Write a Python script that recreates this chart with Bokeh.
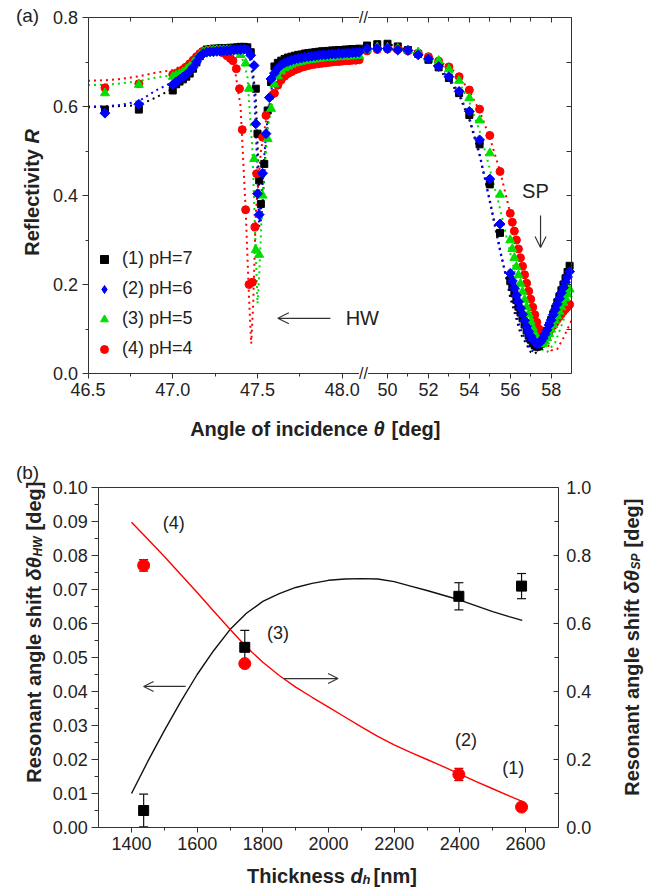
import numpy as np
from bokeh.plotting import figure
from bokeh.models import (Range1d, LinearAxis, FixedTicker, CustomJSTickFormatter, PrintfTickFormatter,
                          Label, Arrow, OpenHead, Legend, LegendItem, Whisker, TeeHead, ColumnDataSource)
from bokeh.layouts import column
from bokeh.embed import file_html
from bokeh.resources import INLINE

FONT = "Liberation Sans"
AX = "#333333"
TXT = "#222222"

# ---------------- panel (a) data : reflectivity vs angle ----------------
theta_rise = [47.00, 47.02, 47.04, 47.06, 47.08, 47.10, 47.12, 47.14, 47.16, 47.18,
              47.20, 47.22, 47.24, 47.26, 47.28, 47.30]
theta_flat = [47.60, 47.62, 47.64, 47.66, 47.68, 47.70, 47.72, 47.74, 47.76, 47.78,
              47.80, 47.82, 47.84, 47.86, 47.88, 47.90, 47.92, 47.94, 47.96, 47.98,
              48.00, 48.02, 48.04, 48.06, 48.08, 48.10]
theta_rs = [49.0, 49.5, 50.0, 50.5, 51.0, 51.5, 52.0, 52.5, 53.0, 53.5, 54.0, 54.5, 55.0, 55.5]
theta_rd = [56.0, 56.1, 56.2, 56.3, 56.4, 56.5, 56.6, 56.7, 56.8, 56.9, 57.0, 57.1, 57.2, 57.3,
            57.4, 57.5, 57.6, 57.7, 57.8, 57.9, 58.0, 58.1, 58.2, 58.3, 58.4, 58.5, 58.6, 58.7,
            58.8, 58.9]

# (1) pH=7
rise7 = [0.636, 0.650, 0.656, 0.661, 0.667, 0.674, 0.685, 0.699, 0.713, 0.723, 0.728, 0.729, 0.730, 0.730, 0.731, 0.731]
dip7_t = [46.6, 46.8, 47.32, 47.34, 47.36, 47.38, 47.40, 47.42, 47.44, 47.46, 47.49, 47.50, 47.51, 47.52, 47.54, 47.56, 47.58]
dip7_r = [0.593, 0.593, 0.731, 0.732, 0.732, 0.733, 0.734, 0.734, 0.733, 0.722, 0.640, 0.539, 0.434, 0.381, 0.471, 0.591, 0.655]
flat7 = [0.690, 0.698, 0.703, 0.707, 0.710, 0.712, 0.714, 0.716, 0.717, 0.719, 0.720, 0.721, 0.722, 0.723, 0.724, 0.724,
         0.725, 0.726, 0.726, 0.727, 0.727, 0.728, 0.728, 0.729, 0.729, 0.730]
rs7 = [0.737, 0.740, 0.741, 0.735, 0.727, 0.718, 0.705, 0.688, 0.664, 0.630, 0.581, 0.515, 0.425, 0.316]
rd7 = [0.210, 0.195, 0.180, 0.165, 0.150, 0.137, 0.124, 0.110, 0.097, 0.085, 0.076, 0.068, 0.063, 0.060, 0.062, 0.067,
       0.075, 0.085, 0.096, 0.108, 0.120, 0.133, 0.146, 0.160, 0.173, 0.187, 0.200, 0.214, 0.228, 0.242]
fitL7_t = [46.5, 46.6, 46.7, 46.8, 46.9, 47.0, 47.1, 47.2, 47.3, 47.4, 47.46, 47.49, 47.51, 47.52, 47.53, 47.55, 47.58, 47.62, 47.7, 47.9, 48.1]
fitL7 = [0.600, 0.600, 0.601, 0.603, 0.620, 0.640, 0.675, 0.727, 0.731, 0.733, 0.725, 0.62, 0.42, 0.34, 0.38, 0.52, 0.64, 0.695, 0.712, 0.724, 0.730]
fitR7_t = [49.0, 50.0, 51.0, 52.0, 53.0, 53.5, 54.0, 54.5, 55.0, 55.5, 56.0, 56.5, 57.0, 57.2, 57.5, 58.0, 58.5, 59.0]
fitR7 = [0.737, 0.741, 0.727, 0.705, 0.660, 0.625, 0.570, 0.490, 0.390, 0.280, 0.170, 0.090, 0.048, 0.045, 0.055, 0.110, 0.185, 0.256]

# (2) pH=6
rise6 = [0.649, 0.655, 0.661, 0.666, 0.672, 0.679, 0.688, 0.700, 0.712, 0.719, 0.722, 0.723, 0.723, 0.724, 0.724, 0.725]
dip6_t = [46.6, 46.8, 47.32, 47.34, 47.36, 47.38, 47.40, 47.42, 47.44, 47.46, 47.48, 47.49, 47.50, 47.51, 47.53, 47.55, 47.57, 47.58]
dip6_r = [0.585, 0.605, 0.725, 0.726, 0.727, 0.728, 0.728, 0.729, 0.727, 0.715, 0.692, 0.561, 0.404, 0.357, 0.450, 0.539, 0.620, 0.662]
flat6 = [0.675, 0.686, 0.693, 0.698, 0.701, 0.704, 0.706, 0.708, 0.709, 0.711, 0.712, 0.713, 0.714, 0.715, 0.716, 0.716,
         0.717, 0.718, 0.718, 0.719, 0.719, 0.720, 0.720, 0.721, 0.721, 0.722]
rs6 = [0.730, 0.730, 0.730, 0.727, 0.726, 0.716, 0.707, 0.690, 0.667, 0.634, 0.589, 0.525, 0.437, 0.336]
rd6 = [0.225, 0.208, 0.192, 0.176, 0.161, 0.147, 0.133, 0.119, 0.106, 0.094, 0.084, 0.076, 0.070, 0.067, 0.068, 0.072,
       0.079, 0.088, 0.098, 0.109, 0.120, 0.132, 0.144, 0.156, 0.168, 0.181, 0.193, 0.205, 0.217, 0.229]
fitL6_t = [46.5, 46.6, 46.7, 46.8, 46.9, 47.0, 47.1, 47.2, 47.3, 47.4, 47.45, 47.48, 47.50, 47.51, 47.52, 47.54, 47.57, 47.61, 47.7, 47.9, 48.1]
fitL6 = [0.598, 0.600, 0.604, 0.612, 0.636, 0.655, 0.680, 0.722, 0.725, 0.728, 0.724, 0.64, 0.45, 0.33, 0.36, 0.49, 0.62, 0.680, 0.704, 0.716, 0.722]
fitR6_t = [49.0, 50.0, 51.0, 52.0, 53.0, 53.5, 54.0, 54.5, 55.0, 55.5, 56.0, 56.5, 57.0, 57.2, 57.5, 58.0, 58.5, 59.0]
fitR6 = [0.730, 0.730, 0.726, 0.707, 0.665, 0.630, 0.575, 0.495, 0.385, 0.275, 0.180, 0.100, 0.052, 0.048, 0.057, 0.110, 0.180, 0.245]

# (3) pH=5
rise5 = [0.667, 0.670, 0.673, 0.677, 0.683, 0.690, 0.698, 0.707, 0.716, 0.722, 0.725, 0.726, 0.726, 0.727, 0.727, 0.727]
dip5_t = [46.6, 46.8, 47.32, 47.34, 47.36, 47.38, 47.40, 47.43, 47.45, 47.48, 47.49, 47.51, 47.53, 47.56, 47.58]
dip5_r = [0.630, 0.649, 0.727, 0.727, 0.726, 0.724, 0.716, 0.697, 0.640, 0.482, 0.278, 0.267, 0.400, 0.527, 0.595]
flat5 = [0.650, 0.668, 0.679, 0.686, 0.690, 0.694, 0.697, 0.699, 0.701, 0.703, 0.704, 0.705, 0.706, 0.707, 0.708, 0.709,
         0.709, 0.710, 0.711, 0.711, 0.712, 0.712, 0.713, 0.713, 0.714, 0.714]
rs5 = [0.728, 0.733, 0.732, 0.730, 0.726, 0.722, 0.709, 0.703, 0.684, 0.658, 0.619, 0.569, 0.495, 0.402]
rd5 = [0.300, 0.280, 0.260, 0.240, 0.221, 0.202, 0.184, 0.166, 0.149, 0.133, 0.117, 0.103, 0.090, 0.078, 0.070, 0.066,
       0.067, 0.072, 0.080, 0.089, 0.099, 0.109, 0.119, 0.129, 0.139, 0.149, 0.159, 0.169, 0.179, 0.189]
fitL5_t = [46.5, 46.6, 46.7, 46.8, 46.9, 47.0, 47.1, 47.2, 47.3, 47.4, 47.44, 47.47, 47.49, 47.50, 47.51, 47.53, 47.56, 47.60, 47.7, 47.9, 48.1]
fitL5 = [0.648, 0.649, 0.652, 0.657, 0.665, 0.670, 0.690, 0.725, 0.727, 0.720, 0.670, 0.50, 0.27, 0.157, 0.22, 0.40, 0.55, 0.640, 0.694, 0.709, 0.714]
fitR5_t = [49.0, 50.0, 51.0, 52.0, 53.0, 53.5, 54.0, 54.5, 55.0, 55.5, 56.0, 56.5, 57.0, 57.5, 57.8, 58.2, 58.6, 59.0]
fitR5 = [0.728, 0.732, 0.726, 0.709, 0.685, 0.655, 0.610, 0.545, 0.460, 0.370, 0.270, 0.175, 0.100, 0.055, 0.048, 0.070, 0.120, 0.175]

# (4) pH=4
rise4 = [0.672, 0.675, 0.678, 0.683, 0.689, 0.696, 0.704, 0.712, 0.719, 0.724, 0.726, 0.727, 0.727, 0.726, 0.724, 0.720]
dip4_t = [46.6, 46.8, 47.32, 47.34, 47.355, 47.375, 47.394, 47.41, 47.43, 47.45, 47.47, 47.485, 47.495, 47.53, 47.55]
dip4_r = [0.642, 0.651, 0.714, 0.708, 0.703, 0.685, 0.640, 0.548, 0.368, 0.200, 0.205, 0.329, 0.449, 0.531, 0.580]
flat4 = [0.630, 0.648, 0.660, 0.668, 0.674, 0.678, 0.682, 0.685, 0.688, 0.690, 0.692, 0.694, 0.695, 0.696, 0.697, 0.698,
         0.699, 0.700, 0.701, 0.701, 0.702, 0.703, 0.703, 0.704, 0.704, 0.705]
rs4 = [0.725, 0.728, 0.729, 0.728, 0.725, 0.720, 0.712, 0.702, 0.689, 0.667, 0.637, 0.594, 0.535, 0.454]
rd4 = [0.360, 0.340, 0.320, 0.300, 0.280, 0.260, 0.241, 0.222, 0.203, 0.185, 0.167, 0.149, 0.132, 0.115, 0.100, 0.087,
       0.081, 0.082, 0.087, 0.094, 0.101, 0.108, 0.115, 0.122, 0.128, 0.134, 0.140, 0.145, 0.150, 0.155]
fitL4_t = [46.5, 46.6, 46.7, 46.8, 46.9, 47.0, 47.1, 47.2, 47.3, 47.36, 47.40, 47.43, 47.45, 47.463, 47.475, 47.49, 47.52, 47.56, 47.60, 47.7, 47.9, 48.1]
fitL4 = [0.658, 0.659, 0.662, 0.668, 0.676, 0.682, 0.700, 0.726, 0.720, 0.700, 0.600, 0.370, 0.170, 0.067, 0.160, 0.360, 0.500, 0.590, 0.630, 0.678, 0.698, 0.705]
fitR4_t = [49.0, 50.0, 51.0, 52.0, 53.0, 53.5, 54.0, 54.5, 55.0, 55.5, 56.0, 56.5, 57.0, 57.5, 58.0, 58.3, 58.6, 59.0]
fitR4 = [0.725, 0.729, 0.725, 0.712, 0.690, 0.668, 0.635, 0.590, 0.530, 0.455, 0.360, 0.260, 0.165, 0.090, 0.052, 0.055, 0.080, 0.120]

legend_labels = ["(1) pH=7", "(2) pH=6", "(3) pH=5", "(4) pH=4"]

# ---------------- panel (b) data ----------------
thick_fit = [1400, 1450, 1500, 1550, 1600, 1650, 1700, 1750, 1800, 1850, 1900, 1950, 2000,
             2050, 2100, 2150, 2200, 2250, 2300, 2350, 2400, 2450, 2500, 2550, 2590]
hw_fit = [0.0100, 0.0195, 0.0285, 0.0370, 0.0450, 0.0520, 0.0582, 0.0630, 0.0665, 0.0688, 0.0706, 0.0718, 0.0727,
          0.0731, 0.0732, 0.0731, 0.0723, 0.0710, 0.0697, 0.0683, 0.0669, 0.0652, 0.0635, 0.0620, 0.0609]
sp_fit = [0.898, 0.848, 0.797, 0.744, 0.691, 0.637, 0.583, 0.531, 0.486, 0.447, 0.413, 0.383, 0.354,
          0.325, 0.296, 0.268, 0.243, 0.221, 0.200, 0.179, 0.157, 0.135, 0.114, 0.093, 0.077]
thick_pts = [1437, 1745, 2397, 2588]
hw_pts = [0.005, 0.053, 0.068, 0.071]
hw_err = [0.0048, 0.005, 0.004, 0.0037]
sp_pts = [0.771, 0.482, 0.156, 0.060]
sp_err = [0.017, 0.0, 0.018, 0.0]

# ---------------- helpers ----------------
def lab(p, x, y, text, size=20, style="bold", angle=0.0, align="left", baseline="alphabetic", **kw):
    p.add_layout(Label(x=x, y=y, x_units="screen", y_units="screen", text=text, text_font=FONT,
                       text_font_size=f"{size}px", text_font_style=style, angle=angle,
                       text_align=align, text_baseline=baseline, text_color=TXT, **kw))

def dlab(p, x, y, text, size=18, align="center", **kw):
    p.add_layout(Label(x=x, y=y, text=text, text_font=FONT, text_font_size=f"{size}px",
                       text_align=align, text_baseline="middle", text_color=TXT, **kw))

def mk_axis(kind=LinearAxis, size=18, tin=0, tout=5, min_in=0, min_out=3, standoff=4, **kw):
    ax = kind(axis_line_color=AX, major_tick_line_color=AX, minor_tick_line_color=AX,
              major_label_text_font=FONT, major_label_text_font_size=f"{size}px",
              major_label_text_color=TXT, major_label_standoff=standoff,
              major_tick_in=tin, major_tick_out=tout, minor_tick_in=min_in, minor_tick_out=min_out, **kw)
    return ax

blank = CustomJSTickFormatter(code="return ''")

# ---------------- figure (a) ----------------
WA, HA = 651, 440
PX_L, X465 = 169.5, 87.5          # px per degree (left part), pixel of 46.5
PX_R, X50 = 20.46, 387.0          # px per degree (right part), pixel of 50
XA0 = 46.5 - X465 / PX_L
XA1 = XA0 + WA / PX_L
XR0 = 50.0 - X50 / PX_R
XR1 = XR0 + WA / PX_R
BOX_R = XA0 + 571.0 / PX_L        # right edge of the plot box (main coordinates)
YA0 = -(HA - 373.0) / 445.0
YA1 = 0.8 + 17.0 / 445.0

def to_main(v):
    return XA0 + (v - XR0) * (XA1 - XA0) / (XR1 - XR0)

pa = figure(width=WA, height=HA, x_range=Range1d(XA0, XA1), y_range=Range1d(YA0, YA1),
            x_axis_location=None, y_axis_location=None,
            output_backend="svg", toolbar_location=None,
            min_border_left=0, min_border_right=0, min_border_top=0, min_border_bottom=0)
pa.extra_x_ranges = {"right": Range1d(XR0, XR1)}
pa.grid.visible = False
pa.outline_line_color = None
pa.background_fill_color = "white"
pa.border_fill_color = "white"

# colour, marker, size, rotation
series = [
    ("black", "square", 7, 0.0, rise7, dip7_t, dip7_r, flat7, rs7, rd7, fitL7_t, fitL7, fitR7_t, fitR7),
    ("#0000ff", "square", 7, np.pi / 4, rise6, dip6_t, dip6_r, flat6, rs6, rd6, fitL6_t, fitL6, fitR6_t, fitR6),
    ("#00e000", "triangle", 9, 0.0, rise5, dip5_t, dip5_r, flat5, rs5, rd5, fitL5_t, fitL5, fitR5_t, fitR5),
    ("#ff0000", "circle", 8, 0.0, rise4, dip4_t, dip4_r, flat4, rs4, rd4, fitL4_t, fitL4, fitR4_t, fitR4),
]

for s in series:
    col = s[0]
    pa.line(s[10], s[11], line_color=col, line_width=2, line_dash="2 4")
    pa.line(s[12], s[13], line_color=col, line_width=2, line_dash="2 4", x_range_name="right")

legend_renderers = {}
for idx in [0, 3, 2, 1]:
    col, mk, sz, ang, rise, dt, dr, flat, rs, rd = series[idx][:10]
    r = pa.scatter(theta_rise + dt + theta_flat, rise + dr + flat, marker=mk, size=sz, angle=ang,
                   fill_color=col, line_color=col)
    pa.scatter(theta_rs + theta_rd, rs + rd, marker=mk, size=sz, angle=ang, fill_color=col, line_color=col,
               x_range_name="right")
    legend_renderers[idx] = r

# the legend does not rotate markers: a proxy glyph (one NaN point, never drawn) shows the diamond
legend_renderers[1] = pa.scatter(x=[np.nan], y=[np.nan], marker="diamond", size=12,
                                 fill_color="#0000ff", line_color="#0000ff")

# axes of (a)
left_major = [46.5, 47.0, 47.5, 48.0]
left_minor = [46.75, 47.25, 47.75]
right_major = [50, 52, 54, 56, 58]
right_minor = [51, 53, 55, 57]
ticker_x = FixedTicker(ticks=left_major + [to_main(v) for v in right_major],
                       minor_ticks=left_minor + [to_main(v) for v in right_minor])
fmt_x = CustomJSTickFormatter(args=dict(L0=XA0, L1=XA1, R0=XR0, R1=XR1), code="""
    if (tick < 48.1) { return tick.toFixed(1); }
    return String(Math.round(R0 + (tick - L0) * (R1 - R0) / (L1 - L0)));
""")
ticker_ya = FixedTicker(ticks=[0.0, 0.2, 0.4, 0.6, 0.8], minor_ticks=[0.1, 0.3, 0.5, 0.7])

xa = mk_axis(ticker=ticker_x, formatter=fmt_x, fixed_location=0.0, bounds=(46.5, BOX_R),
             tout=5, min_out=3)
pa.add_layout(xa, "below")
ya = mk_axis(ticker=ticker_ya, formatter=PrintfTickFormatter(format="%.1f"), fixed_location=46.5,
             bounds=(0.0, 0.8), tout=6, min_out=3)
pa.add_layout(ya, "left")
top_a = mk_axis(ticker=ticker_x, formatter=blank, fixed_location=0.8, bounds=(46.5, BOX_R),
                tin=5, tout=0, min_in=4, min_out=0, size=1, standoff=0)
pa.add_layout(top_a, "above")
right_a = mk_axis(ticker=ticker_ya, formatter=blank, fixed_location=BOX_R, bounds=(0.0, 0.8),
                  tin=5, tout=0, min_in=5, min_out=0, size=1, standoff=0)
pa.add_layout(right_a, "right")

# legend
items = [LegendItem(label=legend_labels[i], renderers=[legend_renderers[i]]) for i in range(4)]
leg = Legend(items=items, location=(94, 81), border_line_color=None, background_fill_alpha=0,
             glyph_width=20, glyph_height=20, spacing=9, padding=0, margin=0, label_standoff=8,
             label_text_font=FONT, label_text_font_size="18px", label_text_color=TXT)
pa.add_layout(leg)

# axis break marks
for yy in (HA - 17, HA - 373):
    lab(pa, 363, yy, "//", size=16, style="normal", align="center", baseline="middle",
        background_fill_color="white")

# titles / labels (a)
lab(pa, 27, HA - 15, "(a)", size=19, style="normal", align="center", baseline="middle")
lab(pa, 31, HA - 143, "Reflectivity ", angle=np.pi / 2, align="right")
lab(pa, 31, HA - 143, "R", style="bold italic", angle=np.pi / 2, align="left")
lab(pa, 373, HA - 428, "Angle of incidence ", align="right")
lab(pa, 373, HA - 428, "θ", style="bold italic", align="left")
lab(pa, 391, HA - 428, "[deg]", align="left")

pa.add_layout(Arrow(end=OpenHead(size=11, line_color=AX, line_width=1.2), x_start=47.93, y_start=0.124,
                    x_end=47.62, y_end=0.124, line_color=AX, line_width=1.2))
dlab(pa, 48.02, 0.124, "HW", size=20, align="left")
pa.add_layout(Arrow(end=OpenHead(size=11, line_color=AX, line_width=1.2), x_start=57.48, y_start=0.355,
                    x_end=57.48, y_end=0.283, line_color=AX, line_width=1.2, x_range_name="right"))
dlab(pa, 57.23, 0.411, "SP", size=20, x_range_name="right")

# ---------------- figure (b) ----------------
WB, HB = 651, 448
PX_NM = 394.0 / 1200.0
XB0 = 1400.0 - 131.0 / PX_NM
XB1 = XB0 + WB / PX_NM
YB0 = -(HB - 387.0) / 3400.0
YB1 = 0.1 + 47.0 / 3400.0

pb = figure(width=WB, height=HB, x_range=Range1d(XB0, XB1), y_range=Range1d(YB0, YB1),
            x_axis_location=None, y_axis_location=None,
            output_backend="svg", toolbar_location=None,
            min_border_left=0, min_border_right=0, min_border_top=0, min_border_bottom=0)
pb.extra_y_ranges = {"sp": Range1d(YB0 * 10, YB1 * 10)}
pb.grid.visible = False
pb.outline_line_color = None
pb.background_fill_color = "white"
pb.border_fill_color = "white"

pb.line(thick_fit, hw_fit, line_color="#111111", line_width=1.4)
pb.line(thick_fit, sp_fit, line_color="#ff0000", line_width=1.4, y_range_name="sp")

hw_src = ColumnDataSource(dict(x=thick_pts, lo=[a - b for a, b in zip(hw_pts, hw_err)],
                               hi=[a + b for a, b in zip(hw_pts, hw_err)]))
sp_src = ColumnDataSource(dict(x=thick_pts, lo=[a - b for a, b in zip(sp_pts, sp_err)],
                               hi=[a + b for a, b in zip(sp_pts, sp_err)]))
pb.add_layout(Whisker(source=hw_src, base="x", lower="lo", upper="hi", dimension="height",
                      line_color="#111111", line_width=1.2,
                      lower_head=TeeHead(size=9, line_color="#111111", line_width=1.2),
                      upper_head=TeeHead(size=9, line_color="#111111", line_width=1.2)))
pb.add_layout(Whisker(source=sp_src, base="x", lower="lo", upper="hi", dimension="height",
                      line_color="#b00000", line_width=1.2, y_range_name="sp",
                      lower_head=TeeHead(size=9, line_color="#b00000", line_width=1.2),
                      upper_head=TeeHead(size=9, line_color="#b00000", line_width=1.2)))
pb.scatter(thick_pts, hw_pts, marker="square", size=10, fill_color="black", line_color="black")
pb.scatter(thick_pts, sp_pts, marker="circle", size=12, fill_color="#ff0000", line_color="#ff0000",
           y_range_name="sp")

xb = mk_axis(ticker=FixedTicker(ticks=[1400, 1600, 1800, 2000, 2200, 2400, 2600],
                                minor_ticks=[1500, 1700, 1900, 2100, 2300, 2500]),
             fixed_location=0.0, bounds=(1300, 2700), tout=5, min_out=3)
pb.add_layout(xb, "below")
yb = mk_axis(ticker=FixedTicker(ticks=[0.0, 0.01, 0.02, 0.03, 0.04, 0.05, 0.06, 0.07, 0.08, 0.09, 0.10],
                                minor_ticks=[0.005, 0.015, 0.025, 0.035, 0.045, 0.055, 0.065, 0.075, 0.085, 0.095]),
             formatter=PrintfTickFormatter(format="%.2f"), fixed_location=1300, bounds=(0.0, 0.1),
             tout=7, min_out=4)
pb.add_layout(yb, "left")
rb = mk_axis(ticker=FixedTicker(ticks=[0.0, 0.2, 0.4, 0.6, 0.8, 1.0], minor_ticks=[0.1, 0.3, 0.5, 0.7, 0.9]),
             formatter=PrintfTickFormatter(format="%.1f"), y_range_name="sp", fixed_location=2700,
             bounds=(0.0, 1.0), tin=5, tout=0, min_in=4, min_out=0, standoff=8)
pb.add_layout(rb, "right")
tb = mk_axis(ticker=FixedTicker(ticks=[], minor_ticks=[]), formatter=blank, fixed_location=0.1,
             bounds=(1300, 2700), tin=0, tout=0, min_in=0, min_out=0, size=1, standoff=0)
pb.add_layout(tb, "above")

# titles / labels (b)
lab(pb, 27, HB - 32, "(b)", size=19, style="normal", align="center", baseline="middle")
lab(pb, 33, HB - 140, "Resonant angle shift ", angle=np.pi / 2, align="right")
lab(pb, 33, HB - 140, "δθ", style="bold italic", angle=np.pi / 2, align="left")
lab(pb, 37, HB - 116, "HW", size=12, style="bold italic", angle=np.pi / 2, align="left")
lab(pb, 33, HB - 90, "[deg]", angle=np.pi / 2, align="left")

lab(pb, 631, HB - 153, "Resonant angle shift ", angle=np.pi / 2, align="right")
lab(pb, 631, HB - 153, "δθ", style="bold italic", angle=np.pi / 2, align="left")
lab(pb, 635, HB - 129, "SP", size=12, style="bold italic", angle=np.pi / 2, align="left")
lab(pb, 631, HB - 107, "[deg]", angle=np.pi / 2, align="left")

lab(pb, 350, 13, "Thickness ", align="right")
lab(pb, 350, 13, "d", style="bold italic", align="left")
lab(pb, 362, 9, "h", size=13, style="bold italic", align="left")
lab(pb, 373, 13, "[nm]", align="left")

dlab(pb, 1529, 0.0897, "(4)")
dlab(pb, 1846, 0.0571, "(3)")
dlab(pb, 2419, 0.0256, "(2)")
dlab(pb, 2563, 0.0176, "(1)")

pb.add_layout(Arrow(end=OpenHead(size=10, line_color=AX, line_width=1.1), x_start=1565, y_start=0.0415,
                    x_end=1437, y_end=0.0415, line_color=AX, line_width=1.1))
pb.add_layout(Arrow(end=OpenHead(size=10, line_color=AX, line_width=1.1), x_start=1864, y_start=0.0438,
                    x_end=2029, y_end=0.0438, line_color=AX, line_width=1.1))

layout = column(pa, pb)
open("out.html", "w").write(file_html(layout, INLINE))
